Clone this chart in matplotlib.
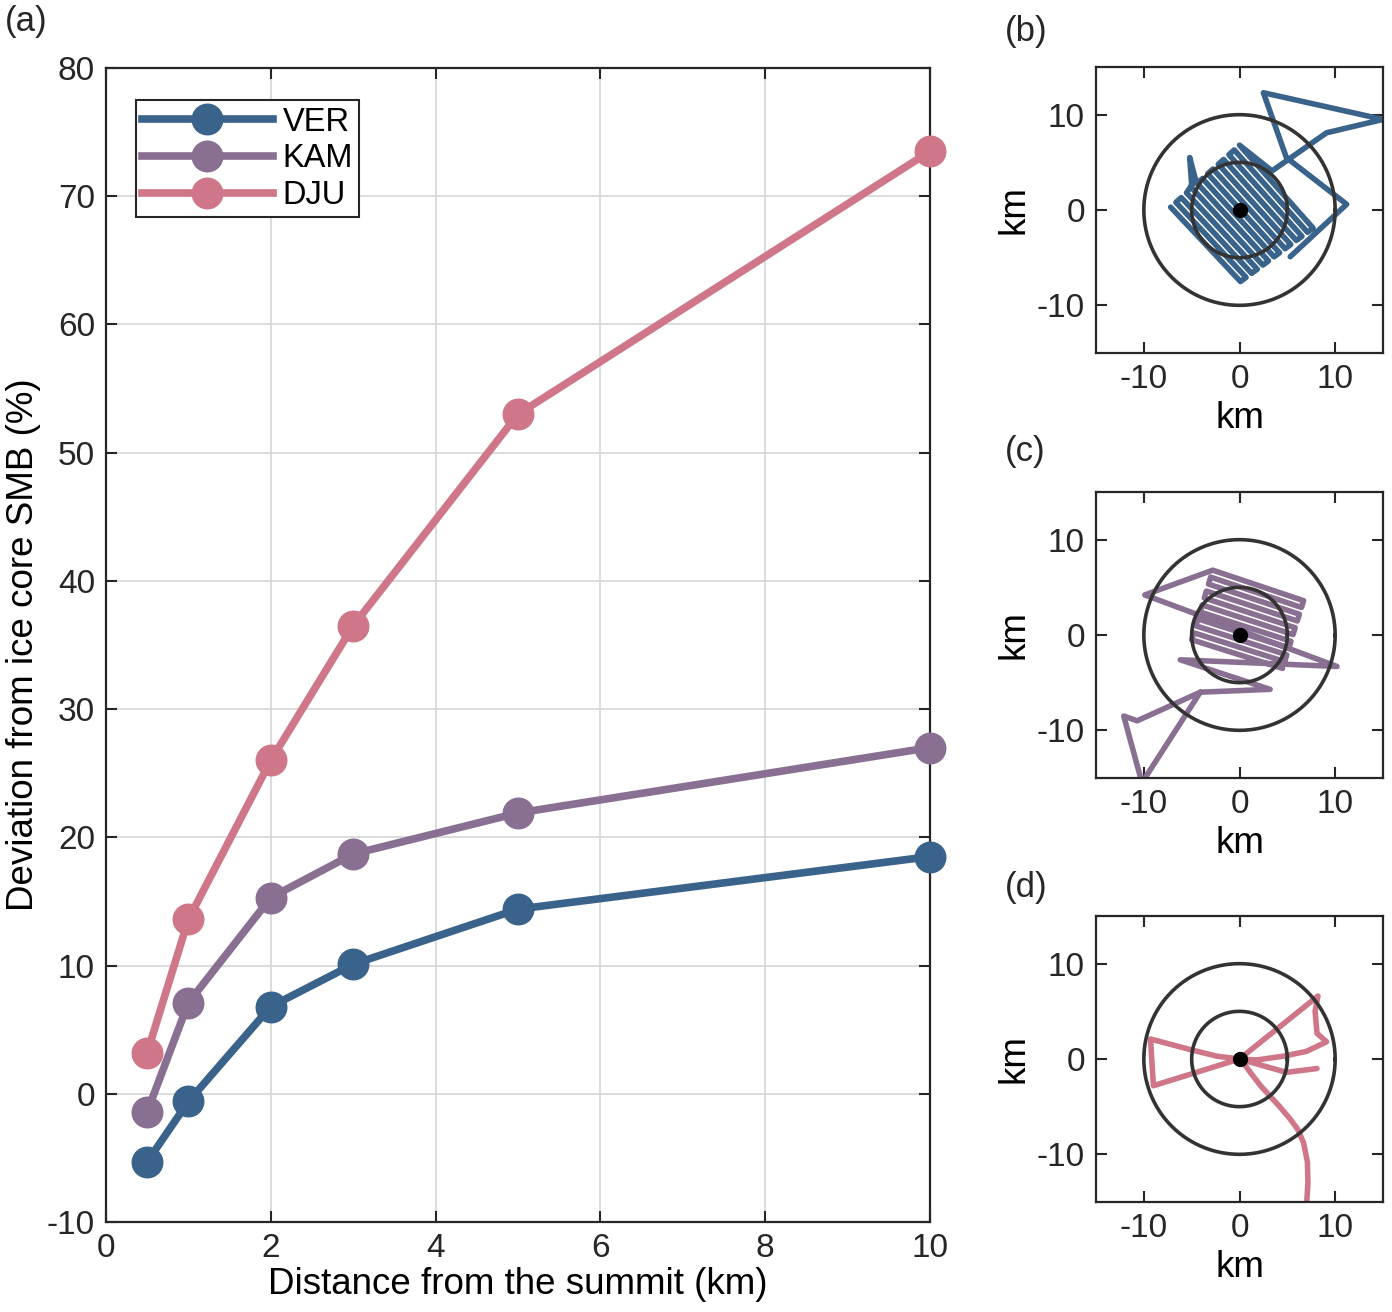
import numpy as np
import matplotlib
matplotlib.use("Agg")
from matplotlib import pyplot as plt

plt.rcParams['font.family'] = ['Liberation Sans', 'DejaVu Sans']
plt.rcParams['axes.unicode_minus'] = False

# --- panel (a) data ---
dist_km = [0.5, 1, 2, 3, 5, 10]
ver = [-5.3, -0.6, 6.8, 10.1, 14.4, 18.5]
kam = [-1.4, 7.1, 15.3, 18.7, 21.9, 27.0]
dju = [3.2, 13.6, 26.0, 36.5, 53.0, 73.5]

names = ["VER", "KAM", "DJU"]
colors = ["#3A638C", "#897092", "#CF7788"]

# --- flight tracks (km from summit) (b)-(d) ---
track_b_x = [5.3, 11.2, 4.9, 2.5, 15.0, 9.1, 3.4, 0.0,
             7.7, 7.11, -0.55, -1.11, 6.53, 5.94, -1.66, -2.22, 5.36,
             4.77, -2.77, -3.33, 4.19, 3.61, -3.87, -4.43, 3.03,
             2.44, -4.98, -5.2, -4.6, -5.54, 1.86, 1.27, -6.09,
             -6.65, 0.69, 0.1, -7.2]
track_b_y = [-4.9, 0.6, 5.5, 12.3, 9.5, 8.1, 4.1, 6.8,
             -1.9, -2.33, 6.3, 5.8, -2.76, -3.19, 5.3, 4.8, -3.62,
             -4.06, 4.3, 3.8, -4.49, -4.91, 3.3, 2.8, -5.34,
             -5.78, 2.3, 5.5, 3.2, 1.8, -6.21, -6.64, 1.3,
             0.8, -7.07, -7.5, 0.3]

track_c_x = [-4.1, -10.7, -12.1, -10.2, -4.1, 3.2, -6.2, 10.2, -9.9,
             -2.8, 6.7, 6.48, -3.02, -3.24, 6.26, 6.04, -3.46, -3.68,
             5.82, 5.6, -3.9, -4.12, 5.38, 5.16, -4.34, -4.56, 4.94,
             4.72, -4.78, -5.0, 4.5]
track_c_y = [-6.0, -9.0, -8.5, -15.5, -6.0, -5.7, -2.6, -3.3, 4.2,
             6.8, 3.6, 2.89, 6.07, 5.34, 2.18, 1.47, 4.61, 3.88,
             0.76, 0.05, 3.15, 2.42, -0.66, -1.37, 1.69, 0.96, -2.08,
             -2.79, 0.23, -0.5, -3.5]

track_d_x = [7.0, 7.15, 7.1, 6.7, 6.1, 5.3, 4.2, 3.2, 2.2, 1.2, 0.4, 0.0,
             8.2, 7.9, 8.1, 9.1, 7.0, 4.6, 1.8, 0.0, -9.0, -9.3, -5.2,
             -2.4, 0.0, 4.9, 8.1]
track_d_y = [-15.5, -13.0, -10.8, -8.8, -7.4, -6.3, -5.0, -3.9, -2.8, -1.5,
             -0.4, 0.0, 6.6, 5.0, 2.7, 1.8, 0.8, 0.3, -0.1, 0.0, -2.8,
             2.1, 1.0, 0.3, 0.0, -1.4, -1.0]

circle_radii = [5, 10]

DARK = "#262626"


def style_box(ax, size):
    ax.tick_params(direction="in", top=True, right=True, length=8,
                   width=1.5, labelsize=size, colors=DARK, pad=8)
    for s in ax.spines.values():
        s.set_linewidth(1.6)
        s.set_color(DARK)


def main():
    fig = plt.figure(figsize=(13.92, 13.12), dpi=100)
    W, H = 1392.0, 1312.0

    ax = fig.add_axes([106 / W, 1 - 1222 / H, 824 / W, 1154 / H])
    for vals, name, c in zip([ver, kam, dju], names, colors):
        ax.plot(dist_km, vals, "-o", color=c, lw=5.5, ms=22, label=name,
                clip_on=False, zorder=3)
    ax.set_xlim(0, 10)
    ax.set_ylim(-10, 80)
    ax.set_xticks([0, 2, 4, 6, 8, 10])
    ax.set_yticks(range(-10, 81, 10))
    ax.grid(True, color="#d9d9d9", lw=1.3)
    ax.set_axisbelow(True)
    style_box(ax, 24)
    ax.set_xlabel("Distance from the summit (km)", fontsize=26.5,
                  labelpad=2)
    ax.set_ylabel("Deviation from ice core SMB (%)", fontsize=26.5,
                  labelpad=4)
    leg = ax.legend(loc="upper left", bbox_to_anchor=(0.036, 0.972),
                    fontsize=23.5, handlelength=4.0, borderpad=0.2,
                    labelspacing=0.17, handletextpad=0.3, fancybox=False,
                    framealpha=1, borderaxespad=0)
    leg.get_frame().set_edgecolor(DARK)
    leg.get_frame().set_linewidth(1.5)

    fig.text(5 / W, 1 - 22 / H, "(a)", fontsize=25, va="center", color=DARK)

    small = [
        (67, track_b_x, track_b_y, colors[0], "(b)", 32),
        (492, track_c_x, track_c_y, colors[1], "(c)", 452),
        (916, track_d_x, track_d_y, colors[2], "(d)", 888),
    ]
    th = np.linspace(0, 2 * np.pi, 361)
    for top, tx, ty, c, lab, ly in small:
        a = fig.add_axes([1096 / W, 1 - (top + 286) / H, 287 / W, 286 / H])
        a.plot(tx, ty, color=c, lw=4.0, solid_joinstyle="round",
               solid_capstyle="round")
        for r in circle_radii:
            a.plot(r * np.cos(th), r * np.sin(th), color="#333333", lw=2.6)
        a.plot(0, 0, "o", color="black", ms=10)
        a.set_xlim(-15, 15)
        a.set_ylim(-15, 15)
        a.set_xticks([-10, 0, 10])
        a.set_yticks([-10, 0, 10])
        style_box(a, 24)
        a.set_xlabel("km", fontsize=26.5, labelpad=4)
        a.set_ylabel("km", fontsize=26.5, labelpad=4)
        fig.text(1005 / W, 1 - ly / H, lab, fontsize=25, va="center",
                 color=DARK)

    fig.savefig("out.png", dpi=100)


if __name__ == '__main__':
    main()
